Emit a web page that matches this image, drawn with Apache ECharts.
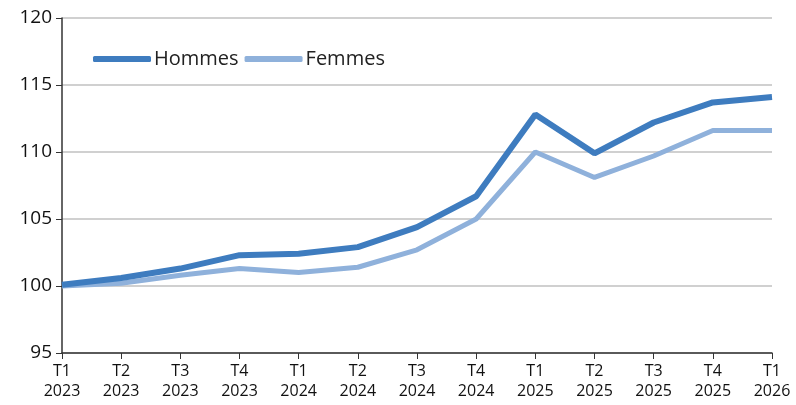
<!DOCTYPE html>
<html>
<head>
<meta charset="utf-8">
<script src="https://cdn.jsdelivr.net/npm/echarts@6/dist/echarts.min.js"></script>
<style>
  html, body { margin: 0; padding: 0; background: #fff; }
  #chart { width: 796px; height: 405px; }
</style>
</head>
<body>
<div id="chart"></div>
<script>
// données
var categories = ['T1\n2023', 'T2\n2023', 'T3\n2023', 'T4\n2023', 'T1\n2024', 'T2\n2024', 'T3\n2024',
  'T4\n2024', 'T1\n2025', 'T2\n2025', 'T3\n2025', 'T4\n2025', 'T1\n2026'];
var hommes = [100.1, 100.6, 101.3, 102.3, 102.4, 102.9, 104.4, 106.7, 112.8, 109.9, 112.2, 113.7, 114.1];
var femmes = [100.0, 100.2, 100.8, 101.3, 101.0, 101.4, 102.7, 105.0, 110.0, 108.1, 109.7, 111.6, 111.6];

var font = 'Open Sans, Noto Sans, sans-serif';

var chart = echarts.init(document.getElementById('chart'));
chart.setOption({
  animation: false,
  grid: { left: 62, right: 24, top: 18, bottom: 52, containLabel: false },
  legend: {
    left: 88, top: 44,
    itemWidth: 58, itemHeight: 6, itemGap: 6,
    icon: 'roundRect',
    textStyle: { fontFamily: font, fontSize: 20, color: '#222', padding: [0, 0, 0, -2] },
    data: ['Hommes', 'Femmes']
  },
  xAxis: {
    type: 'category',
    boundaryGap: false,
    data: categories,
    axisLine: { lineStyle: { color: '#333', width: 1.5 } },
    axisTick: { show: true, alignWithLabel: true, length: 6, lineStyle: { color: '#333' } },
    axisLabel: { fontFamily: font, fontSize: 16, color: '#111', lineHeight: 20, margin: 8, interval: 0 },
    splitLine: { show: false }
  },
  yAxis: {
    type: 'value',
    min: 95, max: 120, interval: 5,
    axisLine: { show: true, lineStyle: { color: '#333', width: 1.5 } },
    axisTick: { show: true, length: 6, lineStyle: { color: '#333' } },
    axisLabel: { fontFamily: font, fontSize: 19, color: '#111', margin: 10 },
    splitLine: { lineStyle: { color: '#c0c0c0', width: 1.5 } }
  },
  series: [
    {
      name: 'Hommes', type: 'line', data: hommes,
      symbol: 'none', z: 3,
      lineStyle: { color: '#3e7cbf', width: 6 },
      itemStyle: { color: '#3e7cbf' }
    },
    {
      name: 'Femmes', type: 'line', data: femmes,
      symbol: 'none', z: 2,
      lineStyle: { color: '#8fb1db', width: 5 },
      itemStyle: { color: '#8fb1db' }
    }
  ]
});
</script>
</body>
</html>
